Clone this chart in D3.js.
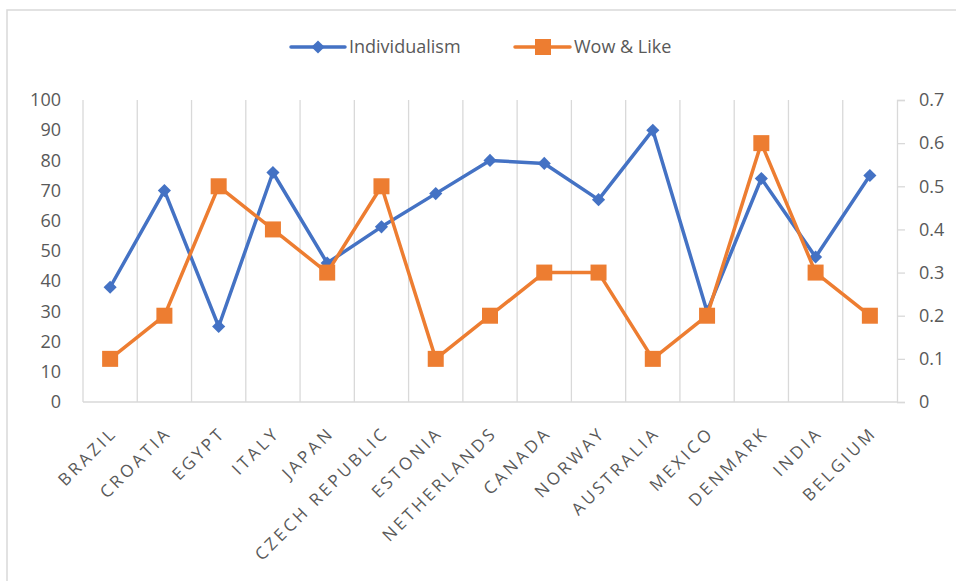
<!DOCTYPE html>
<html>
<head>
<meta charset="utf-8">
<script src="https://cdn.jsdelivr.net/npm/d3@7"></script>
<style>
  body { margin: 0; background: #fff; }
  svg text { font-family: "Open Sans", "Noto Sans", sans-serif; fill: #595959; }
</style>
</head>
<body>
<svg id="chart" width="956" height="581"></svg>
<script>
// chart data
var countries = ["BRAZIL", "CROATIA", "EGYPT", "ITALY", "JAPAN", "CZECH REPUBLIC", "ESTONIA",
    "NETHERLANDS", "CANADA", "NORWAY", "AUSTRALIA", "MEXICO", "DENMARK", "INDIA", "BELGIUM"];
var individualism = [38, 70, 25, 76, 46, 58, 69, 80, 79, 67, 90, 30, 74, 48, 75];
var wowLike = [0.1, 0.2, 0.5, 0.4, 0.3, 0.5, 0.1, 0.2, 0.3, 0.3, 0.1, 0.2, 0.6, 0.3, 0.2];
var leftTicks = [0, 10, 20, 30, 40, 50, 60, 70, 80, 90, 100];
var rightTicks = [0, 0.1, 0.2, 0.3, 0.4, 0.5, 0.6, 0.7];

var blue = "#4472C4", orange = "#ED7D31", grid = "#D9D9D9";

var svg = d3.select("#chart");
var margin = {left: 83, right: 59, top: 100, bottom: 179};
var width = 956 - margin.left - margin.right,
    height = 581 - margin.top - margin.bottom;

// outer border (only top/left visible in the crop)
svg.append("rect")
    .attr("x", 7).attr("y", 10)
    .attr("width", 1000).attr("height", 1000)
    .attr("fill", "none").attr("stroke", grid).attr("stroke-width", 1.5);

var g = svg.append("g").attr("transform", "translate(" + margin.left + "," + margin.top + ")");

var x = d3.scaleBand().domain(countries).range([0, width]);
var yLeft = d3.scaleLinear().domain([0, 100]).range([height, 0]);
var yRight = d3.scaleLinear().domain([0, 0.7]).range([height, 0]);

// vertical gridlines at category boundaries
var bounds = countries.map(function (d) { return x(d); });
g.selectAll("line.vgrid")
    .data(bounds)
    .enter().append("line")
    .attr("class", "vgrid")
    .attr("x1", function (d) { return d; })
    .attr("x2", function (d) { return d; })
    .attr("y1", 0).attr("y2", height)
    .attr("stroke", grid).attr("stroke-width", 1.3);

// bottom axis line
g.append("line")
    .attr("x1", 0).attr("x2", width)
    .attr("y1", height).attr("y2", height)
    .attr("stroke", grid).attr("stroke-width", 1.3);

// left axis
var leftAxis = g.append("g")
    .call(d3.axisLeft(yLeft).tickValues(leftTicks).tickSize(0).tickPadding(22));
leftAxis.select(".domain").remove();
leftAxis.selectAll("text").style("font-size", "18px").attr("fill", "#595959");

// right axis
var rightAxis = g.append("g")
    .attr("transform", "translate(" + width + ",0)")
    .call(d3.axisRight(yRight).tickValues(rightTicks).tickSize(8).tickPadding(14)
        .tickFormat(function (d) { return d === 0 ? "0" : d3.format(".1f")(d); }));
rightAxis.select(".domain").attr("stroke", grid).attr("stroke-width", 1.3);
rightAxis.selectAll("line").attr("stroke", grid).attr("stroke-width", 1.3);
rightAxis.selectAll("text").style("font-size", "18px").attr("fill", "#595959");

// category labels, rotated
g.selectAll("text.cat")
    .data(countries)
    .enter().append("text")
    .attr("class", "cat")
    .attr("text-anchor", "end")
    .style("font-size", "17px")
    .style("letter-spacing", "3.2px")
    .attr("transform", function (d) {
        return "translate(" + (x(d) + x.bandwidth() / 2 + 8) + "," + (height + 32) + ") rotate(-45)";
    })
    .text(function (d) { return d; });

var cx = function (d, i) { return x(countries[i]) + x.bandwidth() / 2; };

// individualism line
var lineL = d3.line().x(cx).y(function (d) { return yLeft(d); });
g.append("path")
    .datum(individualism)
    .attr("d", lineL)
    .attr("fill", "none").attr("stroke", blue).attr("stroke-width", 3.5)
    .attr("stroke-linejoin", "round");
g.selectAll("path.diamond")
    .data(individualism)
    .enter().append("path")
    .attr("class", "diamond")
    .attr("d", d3.symbol().type(d3.symbolDiamond2).size(110))
    .attr("transform", function (d, i) { return "translate(" + cx(d, i) + "," + yLeft(d) + ")"; })
    .attr("fill", blue);

// wow & like line
var lineR = d3.line().x(cx).y(function (d) { return yRight(d); });
g.append("path")
    .datum(wowLike)
    .attr("d", lineR)
    .attr("fill", "none").attr("stroke", orange).attr("stroke-width", 3.5)
    .attr("stroke-linejoin", "round");
g.selectAll("rect.square")
    .data(wowLike)
    .enter().append("rect")
    .attr("class", "square")
    .attr("x", function (d, i) { return cx(d, i) - 8; })
    .attr("y", function (d) { return yRight(d) - 8; })
    .attr("width", 16).attr("height", 16)
    .attr("fill", orange);

// legend
var legend = svg.append("g").attr("transform", "translate(0,47)");
legend.append("line").attr("x1", 291).attr("x2", 345).attr("y1", 0).attr("y2", 0)
    .attr("stroke", blue).attr("stroke-width", 3.5).attr("stroke-linecap", "round");
legend.append("path").attr("d", d3.symbol().type(d3.symbolDiamond2).size(110))
    .attr("transform", "translate(318,0)").attr("fill", blue);
legend.append("text").attr("x", 349).attr("y", 0).attr("dy", "0.35em")
    .style("font-size", "18px").text("Individualism");
legend.append("line").attr("x1", 515).attr("x2", 570).attr("y1", 0).attr("y2", 0)
    .attr("stroke", orange).attr("stroke-width", 3.5).attr("stroke-linecap", "round");
legend.append("rect").attr("x", 535).attr("y", -8).attr("width", 16).attr("height", 16)
    .attr("fill", orange);
legend.append("text").attr("x", 574).attr("y", 0).attr("dy", "0.35em")
    .style("font-size", "18px").text("Wow & Like");
</script>
</body>
</html>
